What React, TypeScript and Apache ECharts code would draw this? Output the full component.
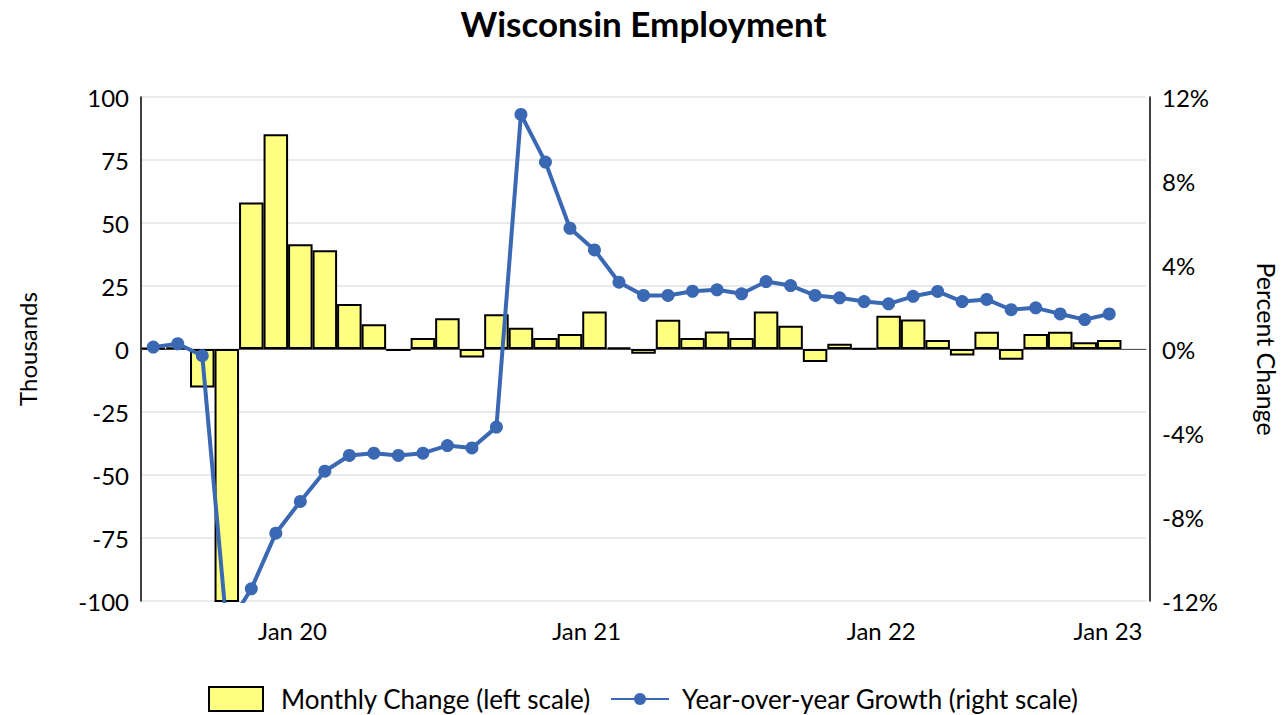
import React, { useEffect, useRef } from "react";
import * as echarts from "echarts";

const categories = [
  "Jan 20", "Feb 20", "Mar 20", "Apr 20", "May 20", "Jun 20", "Jul 20", "Aug 20", "Sep 20", "Oct 20", "Nov 20", "Dec 20",
  "Jan 21", "Feb 21", "Mar 21", "Apr 21", "May 21", "Jun 21", "Jul 21", "Aug 21", "Sep 21", "Oct 21", "Nov 21", "Dec 21",
  "Jan 22", "Feb 22", "Mar 22", "Apr 22", "May 22", "Jun 22", "Jul 22", "Aug 22", "Sep 22", "Oct 22", "Nov 22", "Dec 22",
  "Jan 23", "Feb 23", "Mar 23", "Apr 23", "May 23",
];

// Monthly change in employment, thousands (left scale)
const monthlyChange = [
  0.4, 0.5, -15.3, -405, 58.1, 85.2, 41.6, 39.2, 17.9, 9.8, -0.8, 4.4,
  12.2, -3.4, 13.8, 8.4, 4.4, 6.0, 14.9, 0.6, -1.9, 11.6, 4.4, 6.9,
  4.4, 14.9, 9.2, -5.2, 2.1, 0.2, 13.2, 11.7, 3.6, -2.6, 6.8, -4.3,
  6.0, 6.8, 2.7, 3.6, null,
];

// Year-over-year growth, percent (right scale)
const yoyGrowth = [
  0.09, 0.25, -0.32, -13.3, -11.42, -8.77, -7.26, -5.82, -5.07, -4.96, -5.07, -4.96,
  -4.6, -4.71, -3.72, 11.17, 8.9, 5.75, 4.72, 3.18, 2.55, 2.55, 2.75, 2.82,
  2.63, 3.21, 3.02, 2.55, 2.44, 2.26, 2.15, 2.51, 2.74, 2.26, 2.36, 1.87,
  1.96, 1.67, 1.4, 1.67, null,
];

const xTickLabels = ["Jan 20", "Jan 21", "Jan 22", "Jan 23"];
const xTickSlots = [5.68, 17.68, 29.7, 38.95];

const barName = "Monthly Change (left scale)";
const lineName = "Year-over-year Growth (right scale)";

export default function App() {
  const ref = useRef<HTMLDivElement>(null);
  useEffect(() => {
    const chart = echarts.init(ref.current as HTMLDivElement, null, { renderer: "svg" });
    const font = "Lato";
    const txt = { fontFamily: font, color: "#000", fontSize: 24 };
    const legendTxt = { fontFamily: font, color: "#000", fontSize: 26, lineHeight: 26 };
    chart.setOption({
      animation: false,
      backgroundColor: "#ffffff",
      textStyle: { fontFamily: font },
      title: {
        text: "Wisconsin Employment",
        left: "center",
        top: 0,
        textStyle: { fontFamily: font, fontSize: 35, fontWeight: "bold", color: "#000" },
      },
      grid: { left: 141, right: 138, top: 97, bottom: 114, containLabel: false },
      legend: [
        {
          data: [{ name: barName, icon: "rect" }],
          left: 203,
          top: 681,
          itemWidth: 54,
          itemHeight: 24,
          textStyle: { ...legendTxt, padding: [0, 0, 0, 13] },
        },
        {
          data: [lineName],
          left: 605,
          top: 681,
          itemWidth: 58,
          itemHeight: 15,
          textStyle: { ...legendTxt, padding: [0, 0, 0, 8] },
        },
      ],
      xAxis: [
        {
          type: "category",
          data: categories,
          boundaryGap: true,
          axisLine: { onZero: true, lineStyle: { color: "#555555", width: 1 } },
          axisTick: { show: false },
          axisLabel: { show: false },
          splitLine: { show: false },
        },
        {
          type: "value",
          min: -0.5,
          max: 40.5,
          position: "bottom",
          axisLine: { show: false, onZero: false },
          axisTick: { show: false },
          splitLine: { show: false },
          axisLabel: {
            ...txt,
            margin: 17,
            customValues: xTickSlots,
            formatter: (v: number) => {
              const i = xTickSlots.findIndex((s) => Math.abs(s - v) < 0.01);
              return i >= 0 ? xTickLabels[i] : "";
            },
          },
        },
      ],
      yAxis: [
        {
          type: "value",
          min: -100,
          max: 100,
          interval: 25,
          name: "Thousands",
          nameLocation: "middle",
          nameGap: 102,
          nameTextStyle: { ...txt },
          axisLine: { show: true, onZero: false, lineStyle: { color: "#000", width: 1.5 } },
          axisTick: { show: false },
          axisLabel: { ...txt, margin: 12 },
          splitLine: { show: true, lineStyle: { color: "#e3e3e3", width: 1.5 } },
        },
        {
          type: "value",
          min: -12,
          max: 12,
          interval: 4,
          position: "right",
          offset: 4,
          name: "Percent Change",
          nameLocation: "middle",
          nameRotate: -90,
          nameGap: 104,
          nameTextStyle: { ...txt, fontSize: 25 },
          axisLine: { show: true, onZero: false, lineStyle: { color: "#000", width: 1.5 } },
          axisTick: { show: false },
          axisLabel: { ...txt, margin: 12, formatter: "{value}%" },
          splitLine: { show: false },
        },
      ],
      series: [
        {
          name: barName,
          type: "bar",
          xAxisIndex: 0,
          yAxisIndex: 0,
          data: monthlyChange,
          barCategoryGap: "0%",
          clip: true,
          itemStyle: { color: "#FFFF80", borderColor: "#000000", borderWidth: 2 },
        },
        {
          name: lineName,
          type: "line",
          xAxisIndex: 0,
          yAxisIndex: 1,
          data: yoyGrowth,
          symbol: "circle",
          symbolSize: 13,
          clip: true,
          z: 3,
          lineStyle: { color: "#3A68B3", width: 4 },
          itemStyle: { color: "#3A68B3" },
        },
      ],
    });
    return () => chart.dispose();
  }, []);
  return (
    <div
      ref={ref}
      style={{ position: "fixed", left: 0, top: 0, width: 1287, height: 715 }}
    />
  );
}
